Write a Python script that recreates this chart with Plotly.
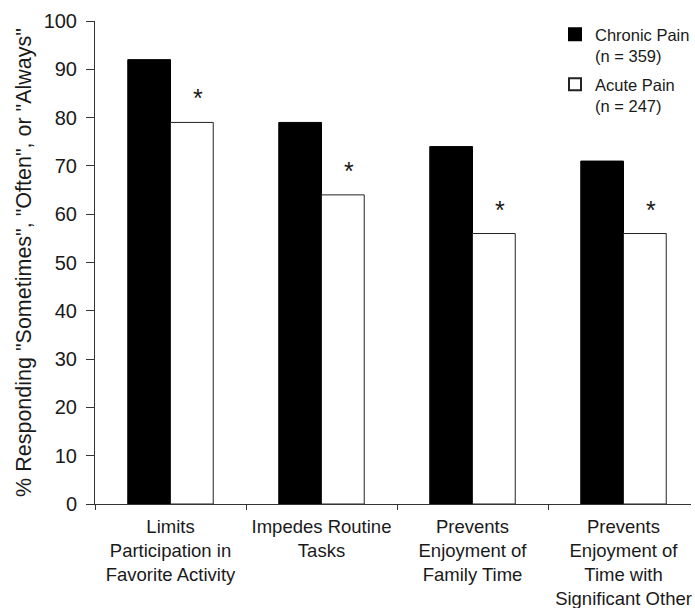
import plotly.graph_objects as go

# Survey items (x categories) and percentages per group
categories = [
    "Limits<br>Participation in<br>Favorite Activity",
    "Impedes Routine<br>Tasks",
    "Prevents<br>Enjoyment of<br>Family Time",
    "Prevents<br>Enjoyment of<br>Time with<br>Significant Other",
]
chronic_pct = [92, 79, 74, 71]
acute_pct = [79, 64, 56, 56]
chronic_name = "Chronic Pain<br>(n = 359)"
acute_name = "Acute Pain<br>(n = 247)"
significance_marks = ["*", "*", "*", "*"]
y_ticks = [0, 10, 20, 30, 40, 50, 60, 70, 80, 90, 100]

FONT = "Liberation Sans, Arial, sans-serif"
INK = "#1a1a1a"

fig = go.Figure()
fig.add_trace(go.Bar(
    x=categories, y=chronic_pct, name=chronic_name, legendgroup="c",
    marker=dict(color="black", line=dict(color="black", width=1)),
))
fig.add_trace(go.Bar(
    x=categories, y=acute_pct, name=acute_name, legendgroup="a",
    marker=dict(color="white", line=dict(color="#222222", width=1)),
))

# significance asterisks above the acute-pain bars
for cat, val, mark in zip(categories, acute_pct, significance_marks):
    fig.add_annotation(
        x=cat, y=val, xref="x", yref="y", text=mark, showarrow=False,
        xshift=27, yshift=8, yanchor="bottom",
        font=dict(family=FONT, size=25, color=INK),
    )

fig.update_layout(
    width=695, height=608,
    margin=dict(l=95, r=0, t=21, b=104),
    paper_bgcolor="white", plot_bgcolor="white",
    font=dict(family=FONT, size=18, color=INK),
    barmode="group", bargap=0.434, bargroupgap=0,
    showlegend=True,
    legend=dict(
        x=0.772, y=1.008, xanchor="left", yanchor="top",
        font=dict(family=FONT, size=16.5, color=INK),
        bgcolor="rgba(0,0,0,0)", borderwidth=0,
        tracegroupgap=4, valign="top", itemsizing="constant",
    ),
)

fig.update_xaxes(
    range=[-0.5, 3.447], showline=True, linecolor="#333333", linewidth=1,
    ticks="outside", tickson="boundaries", ticklen=5, tickcolor="#333333",
    showgrid=False, zeroline=False, automargin=False, ticklabelstandoff=6,
    tickangle=0, tickfont=dict(family=FONT, size=18.5, color=INK),
)
fig.update_yaxes(
    range=[0, 100], tickvals=y_ticks, showline=True, linecolor="#333333",
    linewidth=1, ticks="outside", ticklen=8, tickcolor="#333333",
    showgrid=False, zeroline=False, automargin=False, ticklabelstandoff=5,
    tickfont=dict(family=FONT, size=20, color=INK),
    title=dict(text='% Responding "Sometimes", "Often", or "Always"',
               font=dict(family=FONT, size=21.5, color=INK), standoff=6),
)

fig.write_html("out.html")
